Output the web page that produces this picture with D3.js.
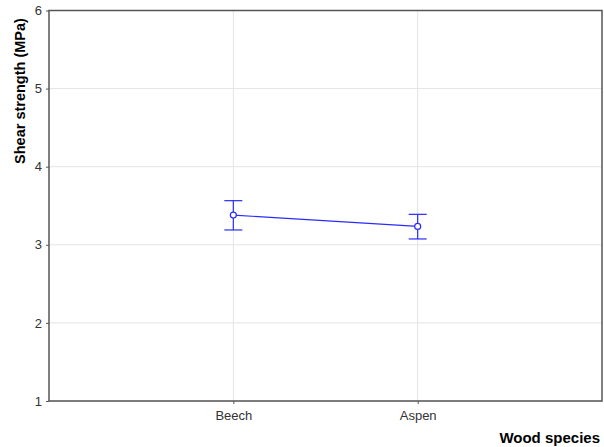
<!DOCTYPE html>
<html>
<head>
<meta charset="utf-8">
<script src="https://cdn.jsdelivr.net/npm/d3@7"></script>
<style>
  body { margin: 0; background: #fff; }
  text { font-family: "Liberation Sans", Arial, sans-serif; }
  .axisLabel { font-weight: bold; fill: #000; }
</style>
</head>
<body>
<div id="graph"></div>
<script>
// Data
var species  = ['Beech', 'Aspen'];
var means    = [3.38, 3.235];
var upperCI  = [3.565, 3.39];
var lowerCI  = [3.19, 3.075];
var yTicks   = [1, 2, 3, 4, 5, 6];

var width = 604, height = 447;
var margin = { top: 10.5, right: 2, bottom: 46, left: 49 };
var w = width - margin.left - margin.right;
var h = height - margin.top - margin.bottom;

var svg = d3.select('#graph')
            .append('svg')
            .attr('width', width)
            .attr('height', height);

var g = svg.append('g')
           .attr('transform', 'translate(' + margin.left + ',' + margin.top + ')');

// Categories sit at 1/3 and 2/3 of the width
var xScale = d3.scaleLinear()
               .domain([0, species.length + 1])
               .range([0, w]);

var yScale = d3.scaleLinear()
               .domain([1, 6])
               .range([h, 0]);

// Grid lines
g.selectAll('.hgrid')
 .data(yTicks)
 .enter().append('line')
 .attr('x1', 0).attr('x2', w)
 .attr('y1', function (d) { return yScale(d); })
 .attr('y2', function (d) { return yScale(d); })
 .attr('stroke', '#e4e4e4');

g.selectAll('.vgrid')
 .data(species)
 .enter().append('line')
 .attr('x1', function (d, i) { return xScale(i + 1); })
 .attr('x2', function (d, i) { return xScale(i + 1); })
 .attr('y1', 0).attr('y2', h)
 .attr('stroke', '#e4e4e4');

// Axes
var yAxis = d3.axisLeft(yScale)
              .tickValues(yTicks)
              .tickFormat(d3.format('d'))
              .tickSize(3)
              .tickPadding(4);

var xAxis = d3.axisBottom(xScale)
              .tickValues(species.map(function (d, i) { return i + 1; }))
              .tickFormat(function (d) { return species[d - 1]; })
              .tickSize(3)
              .tickPadding(7);

var ya = g.append('g').call(yAxis);
var xa = g.append('g').attr('transform', 'translate(0,' + h + ')').call(xAxis);

[ya, xa].forEach(function (a) {
    a.select('.domain').remove();
    a.selectAll('line').attr('stroke', '#555');
    a.selectAll('text').attr('fill', '#333').style('font-size', '13px');
});

// Frame
g.append('rect')
 .attr('x', 0).attr('y', 0)
 .attr('width', w).attr('height', h)
 .attr('fill', 'none')
 .attr('stroke', '#555')
 .attr('stroke-width', 1.5);

// Mean line
var blue = '#2a2aff';
var points = species.map(function (d, i) {
    return { x: i + 1, y: means[i], hi: upperCI[i], lo: lowerCI[i] };
});

var line = d3.line()
             .x(function (d) { return xScale(d.x); })
             .y(function (d) { return yScale(d.y); });

g.append('path')
 .datum(points)
 .attr('d', line)
 .attr('fill', 'none')
 .attr('stroke', blue)
 .attr('stroke-width', 1.2);

// Error bars
var bars = g.selectAll('.err')
            .data(points)
            .enter().append('g');

bars.append('line')
    .attr('x1', function (d) { return xScale(d.x); })
    .attr('x2', function (d) { return xScale(d.x); })
    .attr('y1', function (d) { return yScale(d.hi); })
    .attr('y2', function (d) { return yScale(d.lo); })
    .attr('stroke', blue).attr('stroke-width', 1.2);

bars.selectAll('.cap')
    .data(function (d) { return [d.hi, d.lo].map(function (v) { return { x: d.x, v: v }; }); })
    .enter().append('line')
    .attr('x1', function (d) { return xScale(d.x) - 9; })
    .attr('x2', function (d) { return xScale(d.x) + 9; })
    .attr('y1', function (d) { return yScale(d.v); })
    .attr('y2', function (d) { return yScale(d.v); })
    .attr('stroke', blue).attr('stroke-width', 1.2);

bars.append('circle')
    .attr('cx', function (d) { return xScale(d.x); })
    .attr('cy', function (d) { return yScale(d.y); })
    .attr('r', 3)
    .attr('fill', '#fff')
    .attr('stroke', blue)
    .attr('stroke-width', 1.2);

// Axis labels
svg.append('text')
   .attr('class', 'axisLabel')
   .attr('transform', 'rotate(-90)')
   .attr('x', -91)
   .attr('y', 25)
   .style('text-anchor', 'middle')
   .style('font-size', '14.5px')
   .text('Shear strength (MPa)');

svg.append('text')
   .attr('class', 'axisLabel')
   .attr('x', 600)
   .attr('y', 443)
   .style('text-anchor', 'end')
   .style('font-size', '15px')
   .text('Wood species');
</script>
</body>
</html>
